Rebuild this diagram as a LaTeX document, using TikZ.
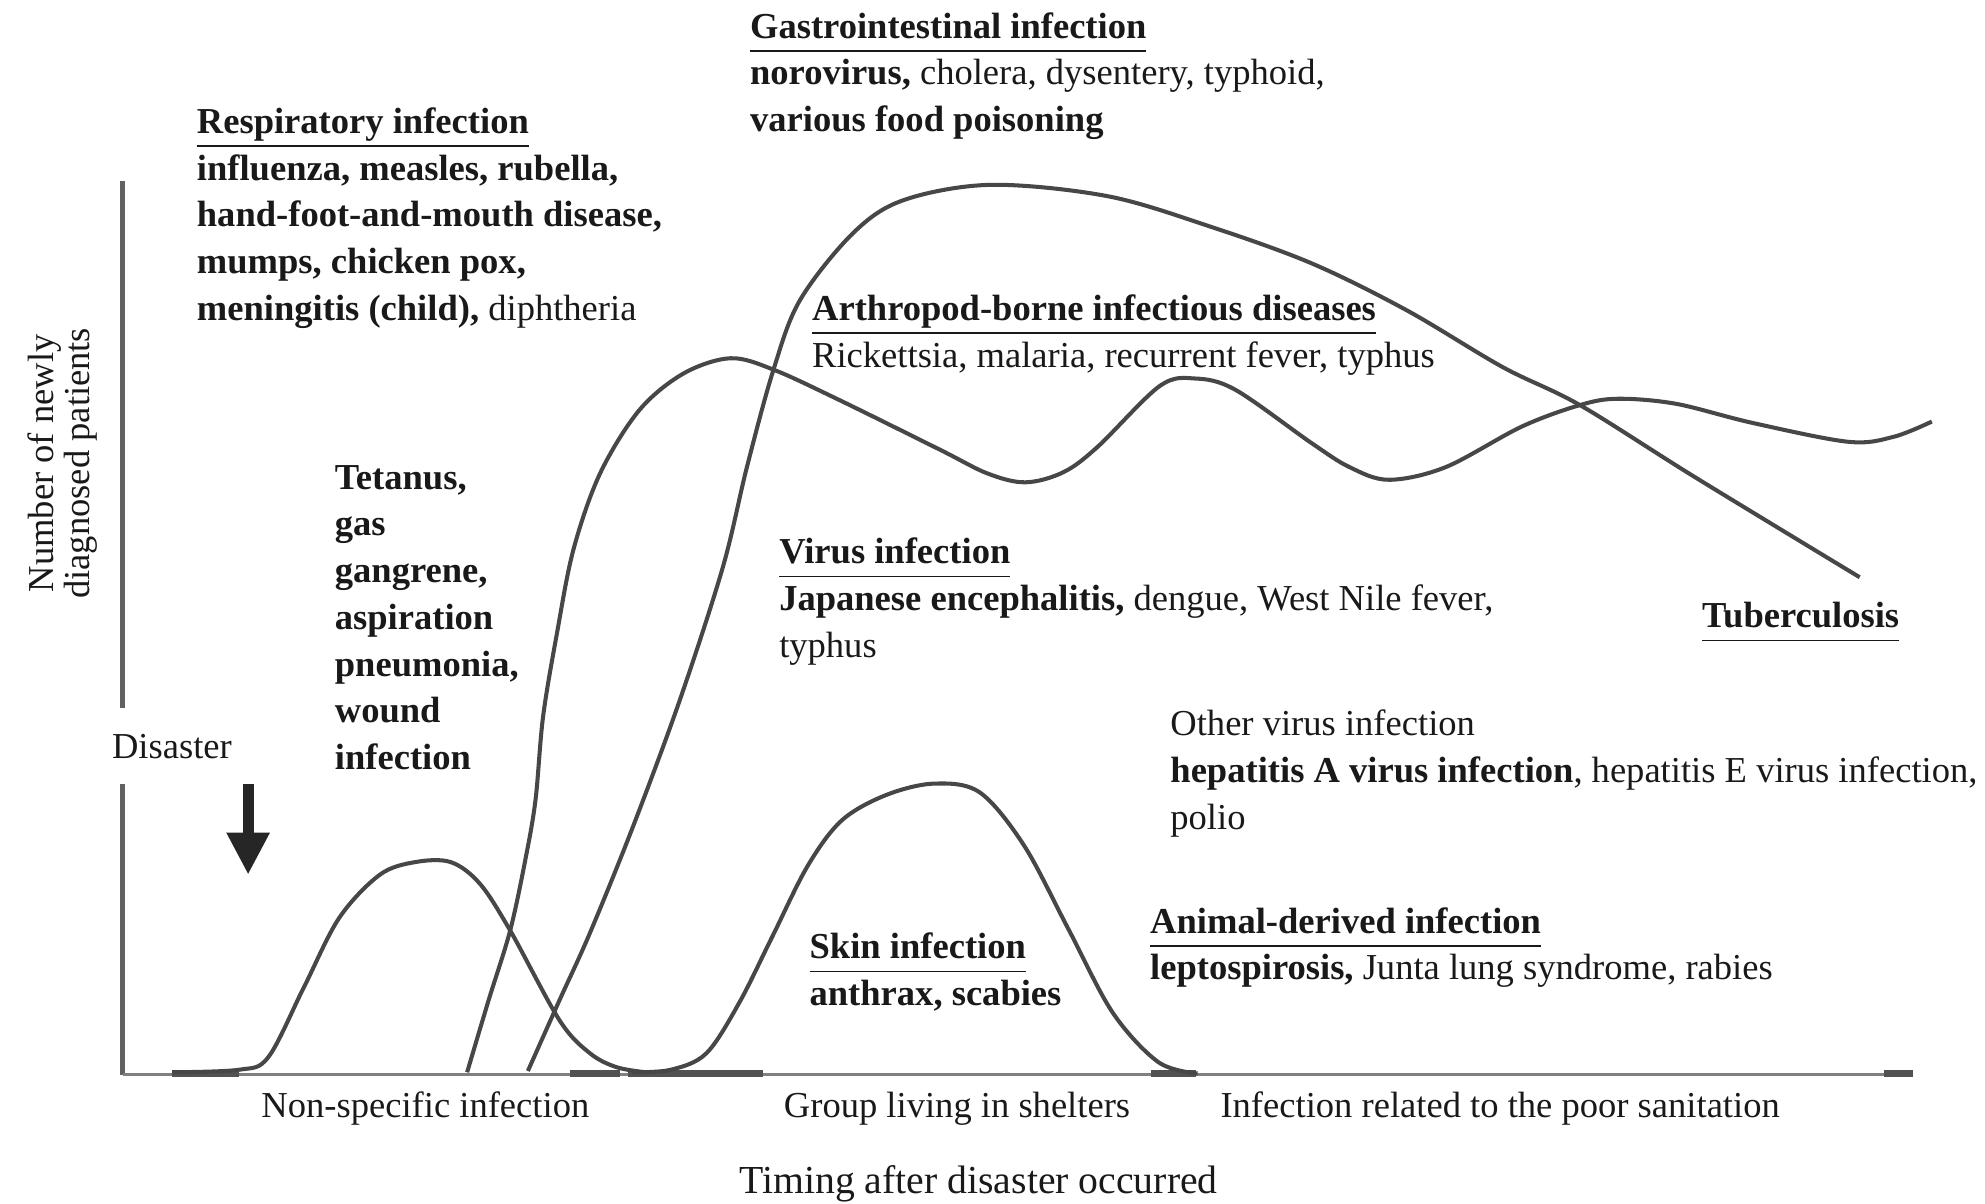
\documentclass[tikz,border=0pt]{standalone}
\usepackage{fontspec}
\setmainfont{Liberation Serif}
\usetikzlibrary{arrows.meta}

\newcommand{\hd}[1]{\underline{\vphantom{y}\textbf{#1}}}

\begin{document}
\begin{tikzpicture}[
  x=0.1266mm, y=-0.1266mm,
  txt/.style={anchor=base west, align=left, inner sep=0pt, text=black!90,
    font=\fontsize{10.4}{13.3}\selectfont},
  lbl/.style={anchor=base, inner sep=0pt, text=black!90,
    font=\fontsize{10.4}{13.3}\selectfont},
  curve/.style={draw=black!72, line width=1.15pt, smooth, tension=0.55},
  yaxis/.style={draw=black!62, line width=1.5pt},
  xaxis/.style={draw=black!50, line width=0.8pt},
  tail/.style={draw=black!68, line width=1.8pt}
]
\useasboundingbox (0,0) rectangle (1568,951);

\coordinate (O) at (97,849);
\coordinate (ytop) at (97,143);
\coordinate (gapA) at (97,559);
\coordinate (gapB) at (97,619);
\coordinate (xend) at (1511,849);
\draw[yaxis] (ytop) -- (gapA);
\draw[yaxis] (gapB) -- (O);
\draw[xaxis] (O) -- (xend);
\foreach \a/\b in {136/189, 450/490, 496/603, 909/945, 1488/1511}
  \draw[tail] (\a,848) -- (\b,848);

\draw[curve] plot coordinates {(136,847) (189,845) (212,835) (240,780) (268,725)
  (300,691) (328,681) (356,681) (379,698) (403,735) (442,806) (466,832)
  (487,843) (510,847)};
\draw[curve] plot coordinates {(500,847) (530,845) (558,832) (584,792) (610,740)
  (638,684) (665,648) (700,628) (738,619) (774,626) (809,668) (844,734)
  (879,800) (915,839) (946,848)};
\draw[curve] plot coordinates {(369,847) (386,790) (403,735) (415,679) (423,632)
  (429,566) (440,500) (453,434) (474,374) (505,324) (540,295) (577,283)
  (611,292) (663,316) (742,355) (780,374) (810,381) (840,373) (867,353)
  (916,305) (944,299) (976,308) (1036,350) (1066,369) (1097,379) (1142,369)
  (1202,337) (1248,320) (1278,315) (1324,319) (1384,334) (1460,349)
  (1496,345) (1526,333)};
\draw[curve] plot coordinates {(417,846) (442,790) (466,737) (500,653) (537,553)
  (571,448) (590,369) (611,292) (632,237) (674,184) (714,158) (783,146)
  (875,155) (956,179) (1036,208) (1111,245) (1187,290) (1248,320)
  (1339,377) (1469,456)};

\node[txt] (gastro) at (592,104) {\hd{Gastrointestinal infection}\\
  \textbf{norovirus,} cholera, dysentery, typhoid,\\
  \textbf{various food poisoning}};
\node[txt] (resp) at (155,253) {\hd{Respiratory infection}\\
  \textbf{influenza, measles, rubella,}\\
  \textbf{hand-foot-and-mouth disease,}\\
  \textbf{mumps, chicken pox,}\\
  \textbf{meningitis (child),} diphtheria};
\node[txt] (arthro) at (641,290) {\hd{Arthropod-borne infectious diseases}\\
  Rickettsia, malaria, recurrent fever, typhus};
\node[txt, font=\bfseries\fontsize{10.4}{13.3}\selectfont] (tetanus) at (264,608)
  {Tetanus,\\ gas\\ gangrene,\\ aspiration\\ pneumonia,\\ wound\\ infection};
\node[txt] (virus) at (615,519) {\hd{Virus infection}\\
  \textbf{Japanese encephalitis,} dengue, West Nile fever,\\
  typhus};
\node[txt] (tb) at (1344,496) {\hd{Tuberculosis}};
\node[txt] (othervirus) at (924,655) {Other virus infection\\
  \textbf{hepatitis A virus infection}, hepatitis E virus infection,\\
  polio};
\node[txt] (animal) at (908,774) {\hd{Animal-derived infection}\\
  \textbf{leptospirosis,} Junta lung syndrome, rabies};
\node[txt] (skin) at (639,794) {\hd{Skin infection}\\
  \textbf{anthrax, scabies}};
\node[txt] (disaster) at (88,599) {Disaster};

\coordinate (dtop) at (196,619);
\coordinate (dtip) at (196,691);
\draw[black!85, line width=3.2pt, -{Triangle[width=11.5pt,length=12pt]}] (dtop) -- (dtip);

\node[lbl] (phase1) at (336,883) {Non-specific infection};
\node[lbl] (phase2) at (756,883) {Group living in shelters};
\node[lbl] (phase3) at (1185,883) {Infection related to the poor sanitation};
\node[lbl, font=\fontsize{11.3}{13.3}\selectfont] (timing) at (773,943) {Timing after disaster occurred};
\node[lbl, rotate=90] (ylabA) at (42,366) {Number of newly};
\node[lbl, rotate=90] (ylabB) at (71,366) {diagnosed patients};
\end{tikzpicture}
\end{document}
